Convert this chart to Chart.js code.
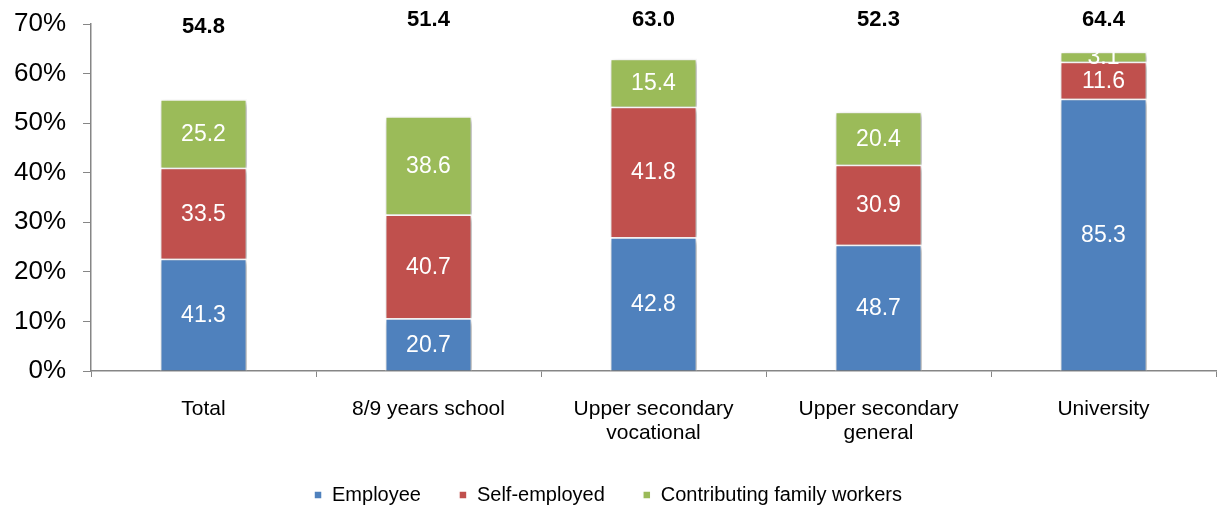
<!DOCTYPE html>
<html>
<head>
<meta charset="utf-8">
<script src="https://cdn.jsdelivr.net/npm/chart.js@4"></script>
<style>
  html, body { margin: 0; padding: 0; background: #fff; }
  #wrap { width: 1219px; height: 509px; }
</style>
</head>
<body>
<div id="wrap"><canvas id="chart"></canvas></div>
<script>
const categories = ["Total", "8/9 years school", ["Upper secondary", "vocational"], ["Upper secondary", "general"], "University"];
const totals = [54.8, 51.4, 63.0, 52.3, 64.4];
const employeeShare = [41.3, 20.7, 42.8, 48.7, 85.3];
const selfEmployedShare = [33.5, 40.7, 41.8, 30.9, 11.6];
const familyShare = [25.2, 38.6, 15.4, 20.4, 3.1];
const seriesNames = ["Employee", "Self-employed", "Contributing family workers"];
const seriesColors = ["#4F81BD", "#C0504D", "#9BBB59"];

const FONT = "Liberation Sans, Arial, sans-serif";
const shares = [employeeShare, selfEmployedShare, familyShare];

// each segment's height is its share of the category total
const datasets = shares.map((share, k) => ({
  label: seriesNames[k],
  data: share.map((s, i) => totals[i] * s / 100),
  shares: share,
  backgroundColor: seriesColors[k],
  borderColor: "#ffffff",
  borderWidth: 1.5,
  categoryPercentage: 1,
  barPercentage: 0.387,
}));

const shadowPlugin = {
  id: "barShadow",
  beforeDatasetsDraw(chart) {
    const ctx = chart.ctx;
    ctx.save();
    ctx.shadowColor = "rgba(0,0,0,0.3)";
    ctx.shadowBlur = 5;
    ctx.shadowOffsetX = 2;
    ctx.shadowOffsetY = 2;
  },
  afterDatasetsDraw(chart) {
    chart.ctx.restore();
  }
};

const labelPlugin = {
  id: "valueLabels",
  afterDatasetsDraw(chart) {
    const ctx = chart.ctx;
    ctx.save();
    ctx.textAlign = "center";
    ctx.textBaseline = "middle";
    ctx.font = "23px " + FONT;
    ctx.fillStyle = "#ffffff";
    chart.data.datasets.forEach((ds, k) => {
      chart.getDatasetMeta(k).data.forEach((bar, i) => {
        ctx.fillText(ds.shares[i].toFixed(1), bar.x, (bar.y + bar.base) / 2 + 1);
      });
    });
    // totals printed at the top of the plot
    const topY = [27, 20, 20, 20, 20];
    ctx.font = "bold 22px " + FONT;
    ctx.fillStyle = "#000000";
    chart.getDatasetMeta(0).data.forEach((bar, i) => {
      ctx.fillText(totals[i].toFixed(1), bar.x, topY[i]);
    });
    ctx.restore();
  }
};

new Chart(document.getElementById("chart"), {
  type: "bar",
  data: { labels: categories, datasets: datasets },
  options: {
    responsive: true,
    maintainAspectRatio: false,
    animation: false,
    layout: { padding: { top: 24, right: 3, left: 0, bottom: -6 } },
    scales: {
      x: {
        stacked: true,
        grid: { drawOnChartArea: false, tickLength: 6, color: "#868686", offset: true },
        border: { color: "#868686", width: 1.5 },
        ticks: { font: { family: FONT, size: 21, lineHeight: 1.15 }, color: "#000", padding: 20, maxRotation: 0 },
        afterFit(scale) { scale.height = 76; }
      },
      y: {
        stacked: true,
        min: 0,
        max: 70,
        grid: { drawOnChartArea: false, tickLength: 8, color: "#868686" },
        border: { color: "#868686", width: 1.5 },
        ticks: {
          stepSize: 10,
          font: { family: FONT, size: 26 },
          color: "#000",
          padding: 17,
          callback: v => v + "%"
        },
        afterFit(scale) {
          scale.width = 91;
          scale.paddingTop = 0;
          scale.paddingBottom = 0;
        }
      }
    },
    plugins: {
      legend: {
        position: "bottom",
        labels: {
          boxWidth: 8,
          boxHeight: 8,
          padding: 38,
          color: "#000",
          font: { family: FONT, size: 20 }
        }
      },
      tooltip: { enabled: false }
    }
  },
  plugins: [shadowPlugin, labelPlugin]
});
</script>
</body>
</html>
